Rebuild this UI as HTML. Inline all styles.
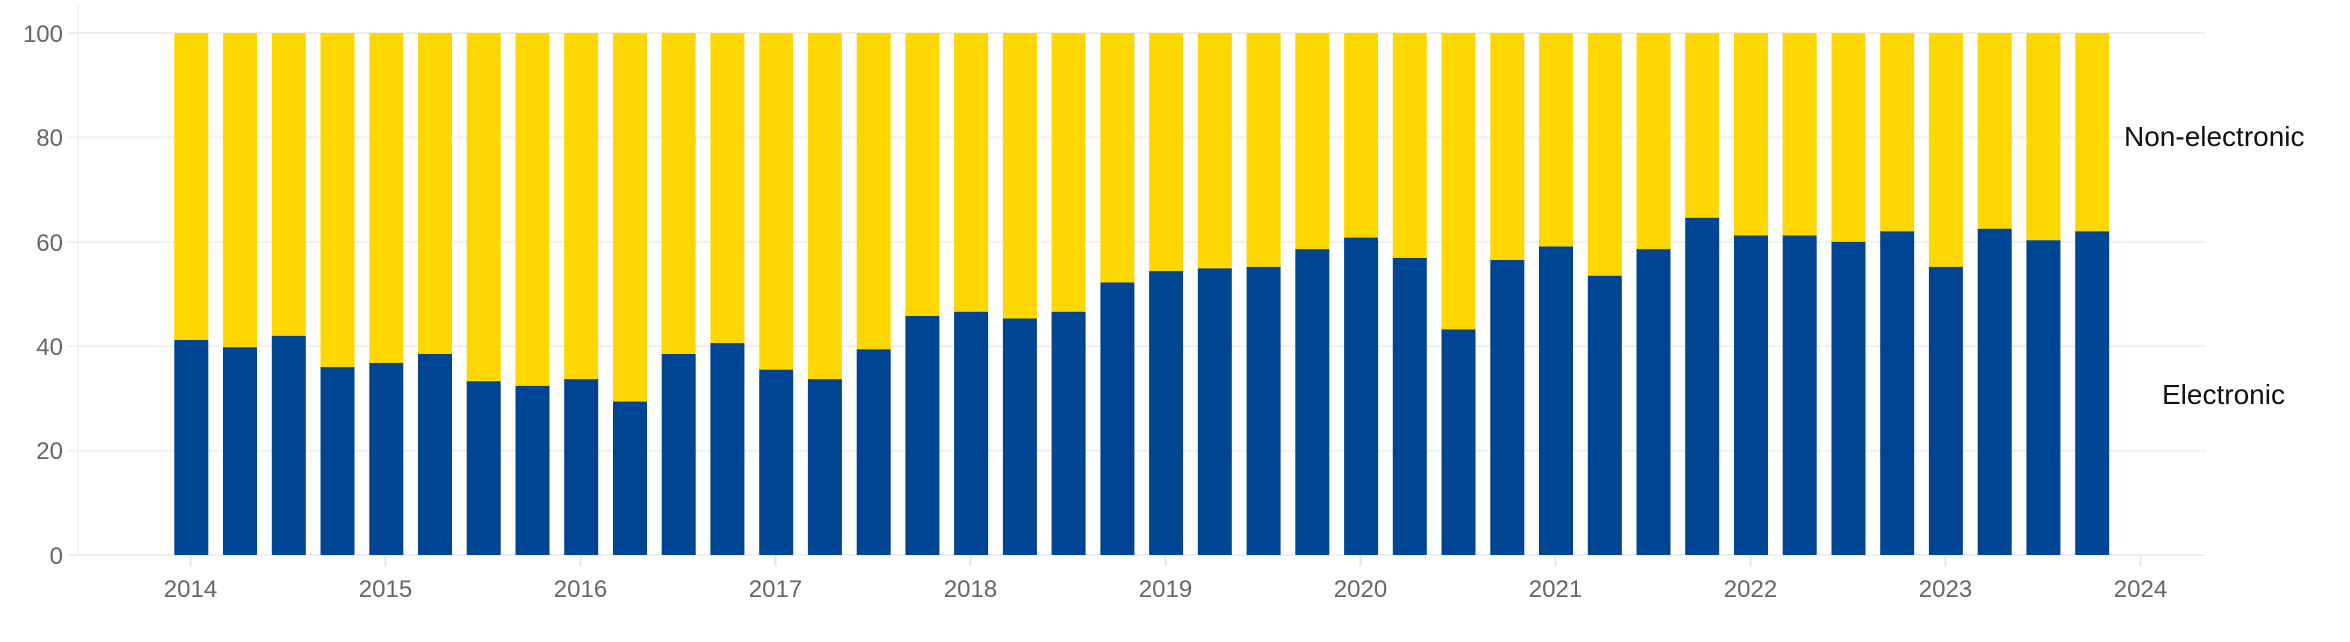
<!DOCTYPE html>
<html><head><meta charset="utf-8"><style>
html,body{margin:0;padding:0;background:#fff;}
svg{display:block;font-family:"Liberation Sans",Arial,sans-serif;}
</style></head><body>
<svg width="2350" height="642" viewBox="0 0 2350 642" xmlns="http://www.w3.org/2000/svg">
<g transform="translate(0,-0.97) scale(1,1.2265)">
<g stroke="#f0f0f0" stroke-width="1.6">
<line x1="67" y1="27.7" x2="2206" y2="27.7"/>
<line x1="67" y1="112.8" x2="2206" y2="112.8"/>
<line x1="67" y1="197.9" x2="2206" y2="197.9"/>
<line x1="67" y1="283.1" x2="2206" y2="283.1"/>
<line x1="67" y1="368.2" x2="2206" y2="368.2"/>
<line x1="67" y1="453.3" x2="2206" y2="453.3"/>
<line x1="78" y1="5" x2="78" y2="453"/>
</g>
<g fill="#FFD700">
<rect x="174.3" y="27.7" width="34" height="250.3"/>
<rect x="223.0" y="27.7" width="34" height="256.2"/>
<rect x="271.8" y="27.7" width="34" height="246.9"/>
<rect x="320.5" y="27.7" width="34" height="272.4"/>
<rect x="369.3" y="27.7" width="34" height="269.0"/>
<rect x="418.0" y="27.7" width="34" height="261.7"/>
<rect x="466.7" y="27.7" width="34" height="283.9"/>
<rect x="515.5" y="27.7" width="34" height="287.7"/>
<rect x="564.2" y="27.7" width="34" height="282.2"/>
<rect x="613.0" y="27.7" width="34" height="300.5"/>
<rect x="661.7" y="27.7" width="34" height="261.7"/>
<rect x="710.4" y="27.7" width="34" height="252.8"/>
<rect x="759.2" y="27.7" width="34" height="274.5"/>
<rect x="807.9" y="27.7" width="34" height="282.2"/>
<rect x="856.7" y="27.7" width="34" height="257.9"/>
<rect x="905.4" y="27.7" width="34" height="230.7"/>
<rect x="954.1" y="27.7" width="34" height="227.3"/>
<rect x="1002.9" y="27.7" width="34" height="232.8"/>
<rect x="1051.6" y="27.7" width="34" height="227.3"/>
<rect x="1100.4" y="27.7" width="34" height="203.4"/>
<rect x="1149.1" y="27.7" width="34" height="194.1"/>
<rect x="1197.8" y="27.7" width="34" height="191.9"/>
<rect x="1246.6" y="27.7" width="34" height="190.7"/>
<rect x="1295.3" y="27.7" width="34" height="176.2"/>
<rect x="1344.1" y="27.7" width="34" height="166.8"/>
<rect x="1392.8" y="27.7" width="34" height="183.4"/>
<rect x="1441.5" y="27.7" width="34" height="241.7"/>
<rect x="1490.3" y="27.7" width="34" height="185.1"/>
<rect x="1539.0" y="27.7" width="34" height="174.1"/>
<rect x="1587.8" y="27.7" width="34" height="197.9"/>
<rect x="1636.5" y="27.7" width="34" height="176.2"/>
<rect x="1685.2" y="27.7" width="34" height="150.7"/>
<rect x="1734.0" y="27.7" width="34" height="165.1"/>
<rect x="1782.7" y="27.7" width="34" height="165.1"/>
<rect x="1831.5" y="27.7" width="34" height="170.3"/>
<rect x="1880.2" y="27.7" width="34" height="161.7"/>
<rect x="1928.9" y="27.7" width="34" height="190.7"/>
<rect x="1977.7" y="27.7" width="34" height="159.6"/>
<rect x="2026.4" y="27.7" width="34" height="169.0"/>
<rect x="2075.2" y="27.7" width="34" height="161.7"/>
</g>
<g fill="#004494">
<rect x="174.3" y="278.0" width="34" height="175.3"/>
<rect x="223.0" y="283.9" width="34" height="169.4"/>
<rect x="271.8" y="274.6" width="34" height="178.7"/>
<rect x="320.5" y="300.1" width="34" height="153.2"/>
<rect x="369.3" y="296.7" width="34" height="156.6"/>
<rect x="418.0" y="289.4" width="34" height="163.9"/>
<rect x="466.7" y="311.6" width="34" height="141.7"/>
<rect x="515.5" y="315.4" width="34" height="137.9"/>
<rect x="564.2" y="309.9" width="34" height="143.4"/>
<rect x="613.0" y="328.2" width="34" height="125.1"/>
<rect x="661.7" y="289.4" width="34" height="163.9"/>
<rect x="710.4" y="280.5" width="34" height="172.8"/>
<rect x="759.2" y="302.2" width="34" height="151.1"/>
<rect x="807.9" y="309.9" width="34" height="143.4"/>
<rect x="856.7" y="285.6" width="34" height="167.7"/>
<rect x="905.4" y="258.4" width="34" height="194.9"/>
<rect x="954.1" y="255.0" width="34" height="198.3"/>
<rect x="1002.9" y="260.5" width="34" height="192.8"/>
<rect x="1051.6" y="255.0" width="34" height="198.3"/>
<rect x="1100.4" y="231.1" width="34" height="222.2"/>
<rect x="1149.1" y="221.8" width="34" height="231.5"/>
<rect x="1197.8" y="219.6" width="34" height="233.7"/>
<rect x="1246.6" y="218.4" width="34" height="234.9"/>
<rect x="1295.3" y="203.9" width="34" height="249.4"/>
<rect x="1344.1" y="194.5" width="34" height="258.8"/>
<rect x="1392.8" y="211.1" width="34" height="242.2"/>
<rect x="1441.5" y="269.4" width="34" height="183.9"/>
<rect x="1490.3" y="212.8" width="34" height="240.5"/>
<rect x="1539.0" y="201.8" width="34" height="251.5"/>
<rect x="1587.8" y="225.6" width="34" height="227.7"/>
<rect x="1636.5" y="203.9" width="34" height="249.4"/>
<rect x="1685.2" y="178.4" width="34" height="274.9"/>
<rect x="1734.0" y="192.8" width="34" height="260.5"/>
<rect x="1782.7" y="192.8" width="34" height="260.5"/>
<rect x="1831.5" y="198.0" width="34" height="255.3"/>
<rect x="1880.2" y="189.4" width="34" height="263.9"/>
<rect x="1928.9" y="218.4" width="34" height="234.9"/>
<rect x="1977.7" y="187.3" width="34" height="266.0"/>
<rect x="2026.4" y="196.7" width="34" height="256.6"/>
<rect x="2075.2" y="189.4" width="34" height="263.9"/>
</g>
</g>
<g fill="#666" font-size="24" text-anchor="end">
<text x="63" y="42">100</text>
<text x="63" y="146">80</text>
<text x="63" y="251">60</text>
<text x="63" y="355">40</text>
<text x="63" y="459">20</text>
<text x="63" y="564">0</text>
</g>
<g stroke="#e6e6e6" stroke-width="2">
<line x1="190.5" y1="556" x2="190.5" y2="566"/>
<line x1="385.5" y1="556" x2="385.5" y2="566"/>
<line x1="580.5" y1="556" x2="580.5" y2="566"/>
<line x1="775.5" y1="556" x2="775.5" y2="566"/>
<line x1="970.5" y1="556" x2="970.5" y2="566"/>
<line x1="1165.5" y1="556" x2="1165.5" y2="566"/>
<line x1="1360.5" y1="556" x2="1360.5" y2="566"/>
<line x1="1555.5" y1="556" x2="1555.5" y2="566"/>
<line x1="1750.5" y1="556" x2="1750.5" y2="566"/>
<line x1="1945.5" y1="556" x2="1945.5" y2="566"/>
<line x1="2140.5" y1="556" x2="2140.5" y2="566"/>
</g>
<g fill="#666" font-size="24" text-anchor="middle">
<text x="190.5" y="597">2014</text>
<text x="385.5" y="597">2015</text>
<text x="580.5" y="597">2016</text>
<text x="775.5" y="597">2017</text>
<text x="970.5" y="597">2018</text>
<text x="1165.5" y="597">2019</text>
<text x="1360.5" y="597">2020</text>
<text x="1555.5" y="597">2021</text>
<text x="1750.5" y="597">2022</text>
<text x="1945.5" y="597">2023</text>
<text x="2140.5" y="597">2024</text>
</g>
<g fill="#111" font-size="28">
<text x="2124" y="146">Non-electronic</text>
<text x="2162" y="404">Electronic</text>
</g>
</svg>
</body></html>
